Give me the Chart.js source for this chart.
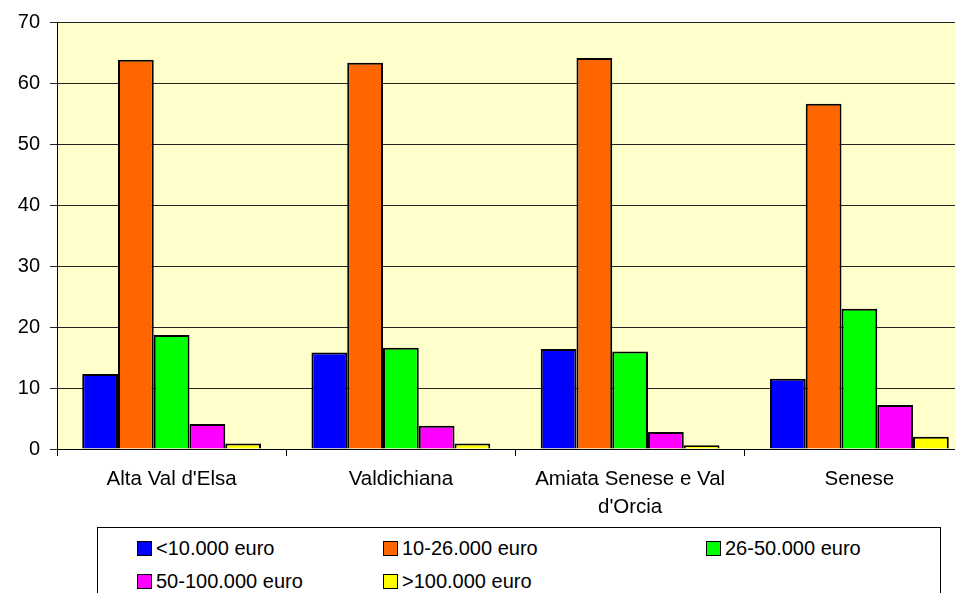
<!DOCTYPE html>
<html>
<head>
<meta charset="utf-8">
<script src="https://cdn.jsdelivr.net/npm/chart.js@4/dist/chart.umd.min.js"></script>
<style>
    html, body { margin: 0; padding: 0; background: #fff; overflow: hidden; }
    #wrap { position: relative; width: 955px; height: 593px; overflow: hidden; }
    #box { position: absolute; left: 0; top: 0; width: 980px; height: 593px; }
    #legend {
        position: absolute; left: 97px; top: 527px; width: 844px; height: 90px;
        border: 1px solid #000; box-sizing: border-box; background: #fff;
        display: grid; grid-template-columns: 246px 323px auto;
        grid-auto-rows: 33px; padding: 4px 0 0 39px;
        font-family: "Liberation Sans", Arial, sans-serif; font-size: 20px; color: #000;
    }
    .item { display: flex; align-items: center; }
    .sw { width: 13px; height: 13px; border: 1px solid #000; margin-right: 4px; }
</style>
</head>
<body>
<div id="wrap">
    <div id="box"><canvas id="myChart"></canvas></div>
    <div id="legend"></div>
</div>
<script>
// zones of the province of Siena
const categories = ["Alta Val d'Elsa", 'Valdichiana', ['Amiata Senese e Val', "d'Orcia"], 'Senese'];

// income classes (percent)
const lt10k = [12.3, 15.8, 16.4, 11.5];
const k10to26 = [63.8, 63.3, 64.1, 56.6];
const k26to50 = [18.7, 16.6, 16.0, 23.0];
const k50to100 = [4.1, 3.8, 2.8, 7.2];
const gt100k = [0.9, 0.9, 0.6, 2.0];

const seriesLabels = ['<10.000 euro', '10-26.000 euro', '26-50.000 euro', '50-100.000 euro', '>100.000 euro'];
const seriesColors = ['#0000FF', '#FF6600', '#00FF00', '#FF00FF', '#FFFF00'];
const seriesData = [lt10k, k10to26, k26to50, k50to100, gt100k];

const yTicks = [0, 10, 20, 30, 40, 50, 60, 70];

const font = { family: '"Liberation Sans", Arial, sans-serif', size: 20 };

// pale yellow plot background
const plotBg = {
    id: 'plotBg',
    beforeDraw(chart) {
        const a = chart.chartArea;
        const c = chart.ctx;
        c.save();
        c.fillStyle = '#FFFFCC';
        c.fillRect(a.left, a.top, a.right - a.left, a.bottom - a.top);
        c.restore();
    }
};

const ctx = document.getElementById('myChart').getContext('2d');
const myChart = new Chart(ctx, {
    type: 'bar',
    data: {
        labels: categories,
        datasets: seriesData.map((d, i) => ({
            label: seriesLabels[i],
            data: d,
            backgroundColor: seriesColors[i],
            borderColor: '#000',
            borderWidth: 2,
            categoryPercentage: 0.78,
            barPercentage: 1.0
        }))
    },
    options: {
        responsive: true,
        maintainAspectRatio: false,
        animation: false,
        layout: { padding: { left: 0, top: 22, right: 6, bottom: 72 } },
        plugins: { legend: { display: false }, tooltip: { enabled: false } },
        scales: {
            x: {
                grid: { drawOnChartArea: false, drawTicks: true, tickLength: 7, color: '#000', offset: true },
                border: { color: '#000', width: 1 },
                ticks: { color: '#000', font: { ...font, size: 20.5, lineHeight: 1.35 }, padding: 10, maxRotation: 0, autoSkip: false },
                afterFit(scale) { scale.height = 72; }
            },
            y: {
                min: 0, max: 70,
                afterBuildTicks(scale) { scale.ticks = yTicks.map(v => ({ value: v })); },
                grid: { color: '#222', tickLength: 7, drawTicks: true },
                border: { color: '#000', width: 1 },
                ticks: { color: '#000', font: font, padding: 10 },
                afterFit(scale) { scale.width = 57; }
            }
        }
    },
    plugins: [plotBg]
});

// legend built from the same series arrays
const legend = document.getElementById('legend');
legend.innerHTML = seriesLabels.map((lab, i) => `
    <div class="item"><span class="sw" style="background:${seriesColors[i]}"></span><span>${lab.replace('<', '&lt;').replace('>', '&gt;')}</span></div>
`).join('');
</script>
</body>
</html>
